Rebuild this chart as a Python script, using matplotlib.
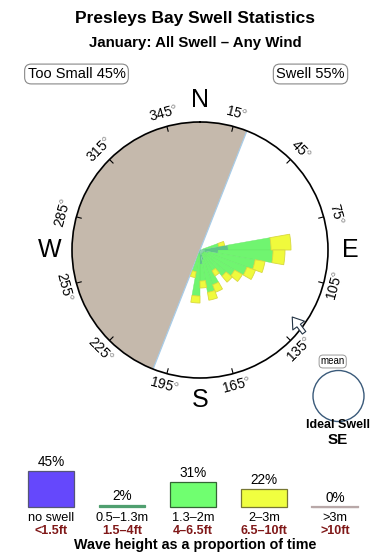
import numpy as np
import matplotlib
matplotlib.use("Agg")
import matplotlib.pyplot as plt
from matplotlib.patches import Circle

plt.rcParams['font.family'] = ['Liberation Sans', 'DejaVu Sans']
plt.rcParams['mathtext.fontset'] = 'custom'
plt.rcParams['mathtext.rm'] = 'Liberation Sans'

# ---------------- data ----------------
title = "Presleys Bay Swell Statistics"
subtitle = "January: All Swell \u2013 Any Wind"
too_small_pct = 45
swell_pct = 55

# swell rose: direction bins (deg, coming from) and stacked lengths per height band
directions = [75, 85, 95, 105, 115, 125, 135, 145, 155, 165, 175, 185, 195]
band_05_13 = [3, 28, 18, 8, 4, 4, 4, 4, 4, 10, 14, 4, 3]
band_13_2 = [16, 43, 55, 48, 46, 36, 30, 20, 33, 33, 17, 42, 19]
band_2_3 = [6, 20, 12, 10, 9, 9, 8, 6, 8, 8, 7, 7, 6]

land_from, land_to = 201.5, 381.5     # shaded land sector (bearing, deg)
tick_angles = [15, 45, 75, 105, 135, 165, 195, 225, 255, 285, 315, 345]
compass = [("N", 0), ("E", 90), ("S", 180), ("W", 270)]
ideal_dir = 127
ideal_label = "SE"

# legend
leg_pct = [45, 2, 31, 22, 0]
leg_m = ["no swell", "0.5\u20131.3m", "1.3\u20132m", "2\u20133m", ">3m"]
leg_ft = ["<1.5ft", "1.5\u20134ft", "4\u20136.5ft", "6.5\u201310ft", ">10ft"]
leg_colors = ["#6548fc", "#4f9f6f", "#70ff70", "#f0ff40", "#b8a8a8"]
leg_edges = ["#555577", "#4f9f6f", "#336633", "#777733", "#b8a8a8"]

# ---------------- figure ----------------
W, H = 390, 560
fig = plt.figure(figsize=(W / 100, H / 100), dpi=100)
fx = lambda x: x / W
fy = lambda y: 1 - y / H

fig.text(0.5, fy(18), title, ha='center', va='center', fontsize=12.5, fontweight='bold')
fig.text(0.5, fy(43), subtitle, ha='center', va='center', fontsize=10.8, fontweight='bold')

box = dict(boxstyle='round,pad=0.2,rounding_size=0.45', fc='white', ec='#888888', lw=0.8)
fig.text(fx(76.5), fy(74), f"Too Small {too_small_pct}%", ha='center', va='center',
         fontsize=10.5, bbox=box)
fig.text(fx(310.5), fy(74), f"Swell {swell_pct}%", ha='center', va='center',
         fontsize=10.5, bbox=box)

# ---------------- rose ----------------
cx, cy, R = 200, 250, 128
ax = fig.add_axes([fx(cx - R), fy(cy + R), 2 * R / W, 2 * R / H], projection='polar')
ax.set_theta_zero_location('N')
ax.set_theta_direction(-1)
ax.set_ylim(0, R)
ax.grid(False)
ax.set_xticks([])
ax.set_yticks([])
ax.spines['polar'].set_linewidth(1.2)
ax.spines['polar'].set_color('black')

th_land = np.radians(np.linspace(land_from, land_to, 200))
ax.fill(np.concatenate([[0], th_land, [0]]), np.concatenate([[0], np.full(200, R), [0]]),
        color='#c5b9ac', lw=0, zorder=1)
ax.plot([np.radians(land_from), np.radians(land_from)], [0, R], color='#a8cce8', lw=0.9, zorder=2)
ax.plot([np.radians(land_to), np.radians(land_to)], [0, R], color='#a8cce8', lw=0.9, zorder=2)

th = np.radians(directions)
wid = np.radians(10)
b1 = np.array(band_05_13, float)
b2 = np.array(band_13_2, float)
b3 = np.array(band_2_3, float)
ax.bar(th, b1, width=wid, bottom=0, color='#5fc488', lw=0, zorder=4)
ax.bar(th, b2, width=wid, bottom=b1, color='#70f570', edgecolor='#68e868', lw=0.3, zorder=3)
ax.bar(th, b3, width=wid, bottom=b1 + b2, color='#f0fa3c', edgecolor='#d8d840', lw=0.6, zorder=3)

for a in tick_angles:
    t = np.radians(a)
    ax.plot([t, t], [R - 5, R], color='black', lw=0.8, zorder=5)
    rot = -a if (a < 90 or a > 270) else 180 - a
    ax.text(t, R + 13, f"{a}" + r"$^{\circ}$", rotation=rot, rotation_mode='anchor',
            ha='center', va='center', fontsize=10, clip_on=False)

for lab, a in compass:
    ax.text(np.radians(a), R + 22, lab, ha='center', va='center', fontsize=18, clip_on=False)

ax.annotate('', xy=(np.radians(ideal_dir - 1), 114), xytext=(np.radians(ideal_dir + 1.5), 133),
            xycoords='data',
            arrowprops=dict(arrowstyle='simple,head_length=0.55,head_width=0.75,tail_width=0.22',
                            fc='white', ec='#223344', lw=0.8, shrinkA=0, shrinkB=0,
                            mutation_scale=14),
            annotation_clip=False, zorder=6)

# mean / ideal swell marker
fig.patches.append(Circle((338.5 / 100, (H - 396) / 100), 0.255, transform=fig.dpi_scale_trans,
                          fc='white', ec='#3a5a7a', lw=1.0))
fig.text(fx(332.7), fy(361.5), "mean", ha='center', va='center', fontsize=7,
         bbox=dict(boxstyle='round,pad=0.15,rounding_size=0.4', fc='white', ec='#999999', lw=0.7))
fig.text(fx(338), fy(425), "Ideal Swell", ha='center', va='center', fontsize=9, fontweight='bold')
fig.text(fx(338), fy(440), ideal_label, ha='center', va='center', fontsize=11, fontweight='bold')

# ---------------- legend ----------------
lax = fig.add_axes([0, 0, 1, 110 / H])
x0, dx, base_y, pxpp = 51, 71, 507, 0.8
lax.set_xlim(-x0 / dx, (W - x0) / dx)
lax.set_ylim(-(H - base_y) / pxpp, (base_y - 450) / pxpp)
lax.axis('off')
idx = np.arange(len(leg_pct))
lax.bar(idx, leg_pct, width=46 / dx, bottom=0, color=leg_colors, edgecolor=leg_edges, lw=0.9)
for i, p in enumerate(leg_pct):
    if p == 0:
        lax.plot([i - 23 / dx, i + 23 / dx], [0, 0], color=leg_colors[i], lw=1.6)
    lax.annotate(f"{p}%", xy=(i, p), xytext=(0, 9), textcoords='offset pixels',
                 ha='center', va='center', fontsize=9.8)
    lax.annotate(leg_m[i], xy=(i, 0), xytext=(0, -11), textcoords='offset pixels',
                 ha='center', va='center', fontsize=9.2)
    lax.annotate(leg_ft[i], xy=(i, 0), xytext=(0, -24), textcoords='offset pixels',
                 ha='center', va='center', fontsize=9, fontweight='bold', color='#801818')
fig.text(0.5, fy(545), "Wave height as a proportion of time", ha='center', va='center',
         fontsize=10.3, fontweight='bold')

fig.savefig("out.png", dpi=100, facecolor='white')
